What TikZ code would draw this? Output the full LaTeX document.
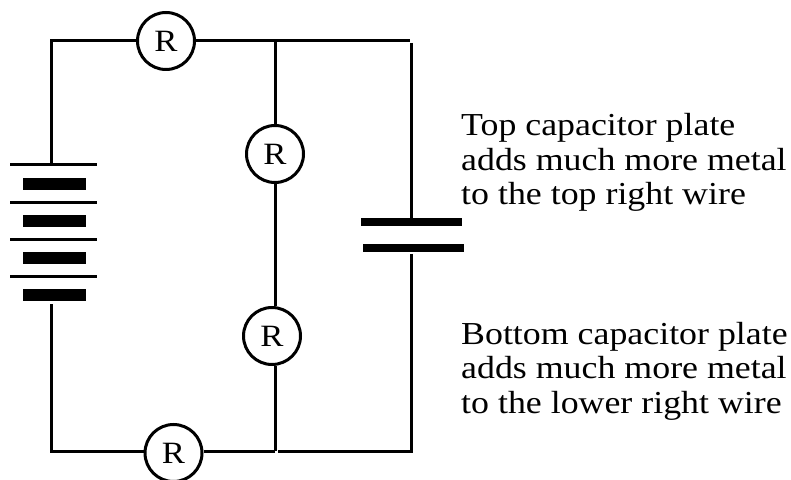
\documentclass[tikz,border=0pt]{standalone}
\usepackage{fontspec}
\setmainfont[FakeStretch=1.12]{Liberation Serif}
\newcommand{\rlabel}{\raisebox{-3.5pt}{R}}
\tikzset{
  wire/.style={line width=3pt},
  resistor/.style={circle, draw, line width=3pt, fill=white, minimum size=57pt, inner sep=0pt,
    font=\fontsize{31}{34}\selectfont},
  platelong/.style={fill=black, inner sep=0pt, minimum width=87pt, minimum height=3pt},
  plateshort/.style={fill=black, inner sep=0pt, minimum width=63pt, minimum height=12pt},
  capplate/.style={fill=black, inner sep=0pt, minimum width=101pt, minimum height=8pt},
  note/.style={anchor=north west, align=left, inner sep=0pt, font=\fontsize{32}{34.5}\selectfont}
}
\begin{document}
\begin{tikzpicture}
  \useasboundingbox (0pt,0pt) rectangle (791pt,479pt);

  % resistors
  \node[resistor] (rTop) at (166pt,438pt) {\rlabel};
  \node[resistor] (rMidA) at (275pt,325pt) {\rlabel};
  \node[resistor] (rMidB) at (272pt,143pt) {\rlabel};
  \node[resistor] (rBot) at (173.5pt,26pt) {\rlabel};

  % battery
  \node[platelong] (batA) at (53.5pt,314pt) {};
  \node[plateshort] (batB) at (54pt,295pt) {};
  \node[platelong] (batC) at (53.5pt,276pt) {};
  \node[plateshort] (batD) at (54pt,258pt) {};
  \node[platelong] (batE) at (53.5pt,239pt) {};
  \node[plateshort] (batF) at (54pt,221pt) {};
  \node[platelong] (batG) at (53.5pt,202pt) {};
  \node[plateshort] (batH) at (54pt,184pt) {};

  % capacitor
  \node[capplate] (capTop) at (411.5pt,257pt) {};
  \node[capplate] (capBot) at (413.5pt,231pt) {};

  % corners and junctions
  \coordinate (cornerTL) at (51pt,438pt);
  \coordinate (cornerBL) at (51pt,28pt);
  \coordinate (batEnd) at (51pt,175pt);
  \coordinate (batStart) at (51pt,314pt);
  \coordinate (juncTop) at (275pt,438pt);
  \coordinate (juncBot) at (275pt,28pt);
  \coordinate (topEnd) at (410pt,438pt);
  \coordinate (rightTop) at (411pt,436pt);
  \coordinate (capTopIn) at (411pt,261pt);
  \coordinate (capBotOut) at (411pt,225pt);
  \coordinate (cornerBR) at (411pt,28pt);
  \coordinate (botStart) at (278pt,28pt);

  % wires
  \draw[wire] (batStart) -- (cornerTL) -- (rTop.west);
  \draw[wire] (rTop.east) -- (topEnd);
  \draw[wire] (juncTop) -- (rMidA.north);
  \draw[wire] (rMidA.south) -- (rMidA.south |- rMidB.north);
  \draw[wire] (rMidA.south |- rMidB.south) -- (juncBot);
  \draw[wire] (rightTop) -- (capTopIn);
  \draw[wire] (capBotOut) -- (cornerBR) -- (botStart);
  \draw[wire] (juncBot) -- (rBot.east |- juncBot);
  \draw[wire] (rBot.west |- cornerBL) -- (cornerBL) -- (batEnd);

  % text
  \node[note] (noteTop) at (461pt,365.5pt) {Top capacitor plate\\adds much more metal\\to the top right wire};
  \node[note] (noteBot) at (461pt,157pt) {Bottom capacitor plate\\adds much more metal\\to the lower right wire};
\end{tikzpicture}
\end{document}
